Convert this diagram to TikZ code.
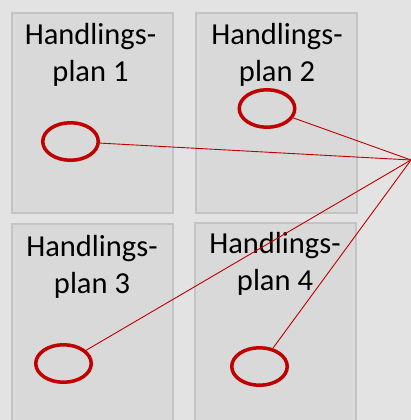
\documentclass[tikz,border=0pt]{standalone}
\usepackage{fontspec}
\setmainfont{Carlito}
\usetikzlibrary{shapes.geometric}
\definecolor{bggray}{RGB}{227,227,227}
\definecolor{panelfill}{RGB}{217,217,217}
\definecolor{panelline}{RGB}{196,196,196}
\definecolor{darkred}{RGB}{192,0,0}
\begin{document}
\begin{tikzpicture}[x=1pt,y=-1pt]
		\tikzset{pl/.style={draw=panelline, line width=2pt, fill=panelfill, minimum width=161pt, minimum height=200pt, inner sep=0pt}};
		\tikzset{lbl/.style={align=center, anchor=north, inner sep=0pt, font=\fontsize{30.5}{37}\selectfont}};
		\tikzset{ring/.style={ellipse, draw=darkred, line width=3.5pt, minimum width=55.5pt, minimum height=37.5pt, inner sep=0pt}};
		\tikzset{ln/.style={draw=darkred, line width=0.9pt}};

		\useasboundingbox (0,0) rectangle (411,420);
		\fill[bggray] (0,0) rectangle (411,420);

		\node[pl] (p1) at (92.5,113) {};
		\node[pl] (p2) at (276,113) {};
		\node[pl] (p3) at (92.5,324) {};
		\node[pl] (p4) at (275,323) {};

		\node[lbl] (t1) at (90.5,23) {Handlings-\\plan 1};
		\node[lbl] (t2) at (277,23) {Handlings-\\plan 2};
		\node[lbl] (t3) at (92,235) {Handlings-\\plan 3};
		\node[lbl] (t4) at (275,232) {Handlings-\\plan 4};

		\node[ring] (e1) at (70.5,141.5) {};
		\node[ring] (e2) at (267,108.5) {};
		\node[ring] (e3) at (63.5,363.5) {};
		\node[ring] (e4) at (259.5,366.5) {};

		\coordinate (hub) at (411,160);

		\draw[ln] (e1) -- (hub);
		\draw[ln] (e2) -- (hub);
		\draw[ln] (e3) -- (hub);
		\draw[ln] (e4) -- (hub);

	\end{tikzpicture}
\end{document}
